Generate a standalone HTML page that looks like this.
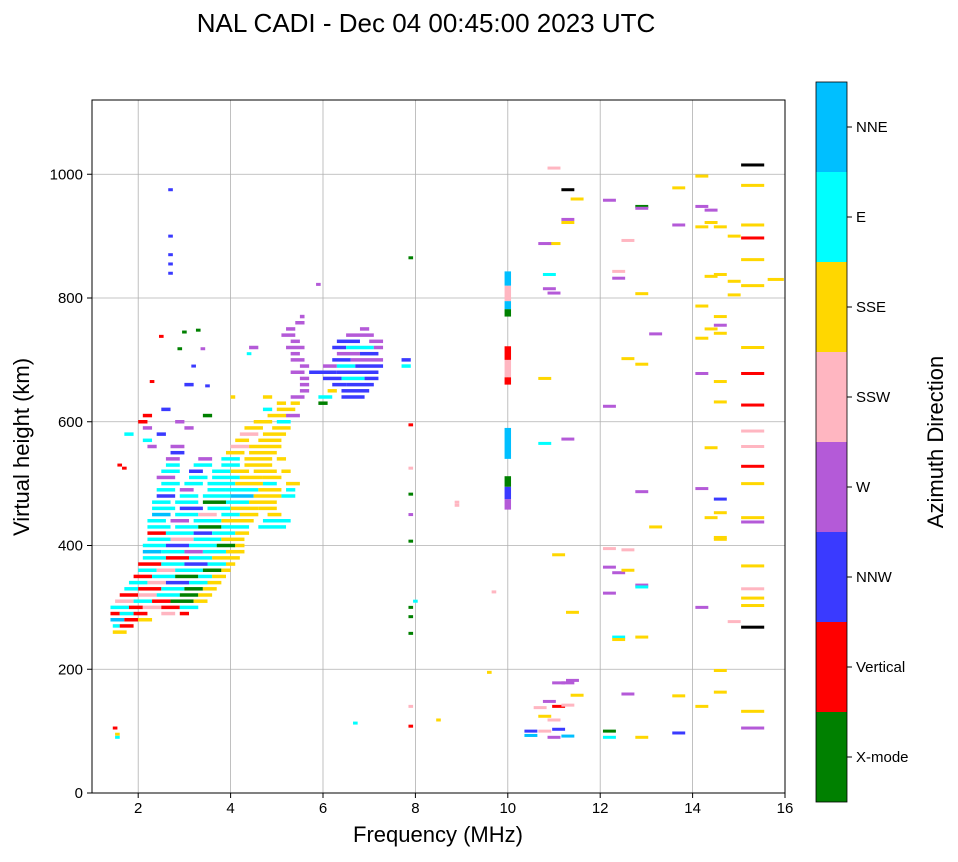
<!DOCTYPE html>
<html><head><meta charset="utf-8">
<style>
body{margin:0;background:#fff;font-family:"Liberation Sans","DejaVu Sans",sans-serif;}
svg text{font-family:"Liberation Sans","DejaVu Sans",sans-serif;}
</style></head>
<body>
<svg id="chart" width="958" height="857" xmlns="http://www.w3.org/2000/svg">
<text x="426" y="32" font-size="26" text-anchor="middle">NAL CADI - Dec 04 00:45:00 2023 UTC</text>
<g id="grid"></g>
<g id="marks"></g>
<rect x="92" y="100" width="693" height="693" fill="none" stroke="#000" stroke-width="1"/>
<g id="axes"></g>
<text x="438" y="842" font-size="22" text-anchor="middle">Frequency (MHz)</text>
<text transform="translate(29,447) rotate(-90)" font-size="22" text-anchor="middle">Virtual height (km)</text>
<g id="cbar"></g>
<text transform="translate(943,442) rotate(-90)" font-size="22" text-anchor="middle">Azimuth Direction</text>
</svg>
<script>
const colors=["#008000","#ff0000","#3a3aff","#b45ad8","#ffb6c1","#ffd700","#00ffff","#00bfff","#000000"];
const directions=["X-mode","Vertical","NNW","W","SSW","SSE","E","NNE"];
const xTicks=[2,4,6,8,10,12,14,16];
const yTicks=[0,200,400,600,800,1000];
const rowH=[260,270,280,290,300,310,320,330,340,350,360,370,380,390,400,410,420,430,440,450,460,470,480,490,500,510,520,530,540,550,560,570,580,590,600,610,620,630,640,650,660,670,680,690,700,710,720,730,740,750,760,770];
const rowRuns=[
[[1.45,1.75,5]],
[[1.45,1.6,6],[1.6,1.9,1]],
[[1.4,1.7,7],[1.7,2.0,1],[2.0,2.3,5]],
[[1.4,1.6,1],[1.6,1.9,6],[1.9,2.2,1],[2.5,2.8,4],[2.9,3.1,1]],
[[1.4,1.8,6],[1.8,2.1,1],[2.1,2.5,4],[2.5,2.9,1],[2.9,3.3,6]],
[[1.5,1.9,4],[1.9,2.3,6],[2.3,2.7,1],[2.7,3.2,0],[3.2,3.5,5]],
[[1.6,2.0,1],[2.0,2.4,4],[2.4,2.9,6],[2.9,3.3,0],[3.3,3.6,5]],
[[1.7,2.0,6],[2.0,2.5,1],[2.5,3.0,6],[3.0,3.4,0],[3.4,3.7,5]],
[[1.8,2.2,6],[2.2,2.6,4],[2.6,3.1,2],[3.1,3.5,6],[3.5,3.8,5]],
[[1.9,2.3,1],[2.3,2.8,6],[2.8,3.3,0],[3.3,3.6,6],[3.6,3.9,5]],
[[2.0,2.4,6],[2.4,2.8,4],[2.8,3.4,6],[3.4,3.8,0],[3.8,4.0,5]],
[[2.0,2.5,1],[2.5,3.0,6],[3.0,3.5,2],[3.5,3.9,6],[3.9,4.1,5]],
[[2.1,2.6,6],[2.6,3.1,1],[3.1,3.6,6],[3.6,4.2,5]],
[[2.1,2.5,7],[2.5,3.0,6],[3.0,3.4,3],[3.4,3.9,6],[3.9,4.3,5]],
[[2.1,2.6,6],[2.6,3.1,2],[3.1,3.7,6],[3.7,4.1,0],[4.1,4.3,5]],
[[2.2,2.7,6],[2.7,3.2,4],[3.2,3.8,6],[3.8,4.3,5]],
[[2.2,2.6,1],[2.6,3.2,6],[3.2,3.6,2],[3.6,4.1,6],[4.1,4.4,5]],
[[2.2,2.7,6],[2.8,3.3,6],[3.3,3.8,0],[3.8,4.4,6],[4.6,5.2,6]],
[[2.2,2.6,6],[2.7,3.1,3],[3.2,3.8,6],[3.8,4.5,5],[4.7,5.3,6]],
[[2.3,2.7,7],[2.8,3.3,6],[3.3,3.7,4],[3.8,4.2,6],[4.2,4.6,5],[4.8,5.1,5]],
[[2.3,2.8,6],[2.9,3.4,2],[3.5,4.0,6],[4.0,4.6,5],[4.6,5.0,5]],
[[2.3,2.7,6],[2.8,3.3,6],[3.4,3.9,0],[3.9,4.4,6],[4.4,5.0,5]],
[[2.4,2.8,2],[2.9,3.3,6],[3.4,4.0,6],[4.0,4.5,7],[4.5,5.1,5],[5.1,5.4,6]],
[[2.4,2.8,6],[2.9,3.2,3],[3.5,3.9,6],[3.9,4.6,6],[4.6,5.1,5],[5.2,5.4,6]],
[[2.5,2.9,6],[3.0,3.4,6],[3.5,4.1,6],[4.1,4.7,5],[4.7,5.0,6],[5.2,5.5,5]],
[[2.4,2.8,3],[3.1,3.5,6],[3.6,4.2,6],[4.2,4.7,5],[4.7,5.1,5]],
[[2.5,2.9,6],[3.1,3.4,2],[3.6,4.0,6],[4.0,4.4,5],[4.5,5.0,5],[5.1,5.3,5]],
[[2.6,2.9,6],[3.2,3.6,6],[3.8,4.2,6],[4.3,4.9,5]],
[[2.6,2.9,3],[3.3,3.6,3],[3.8,4.2,6],[4.3,4.9,5],[5.0,5.2,5]],
[[2.7,3.0,2],[3.9,4.3,5],[4.4,5.0,5]],
[[2.2,2.4,3],[2.7,3.0,3],[4.0,4.4,4],[4.4,5.1,5]],
[[2.1,2.3,6],[4.1,4.4,5],[4.6,5.1,5]],
[[1.7,1.9,6],[2.4,2.6,2],[4.2,4.6,4],[4.7,5.2,5]],
[[2.1,2.3,3],[3.0,3.2,3],[4.3,4.7,5],[4.9,5.3,5]],
[[2.0,2.2,1],[2.8,3.0,3],[4.5,4.9,5],[5.0,5.3,6]],
[[2.1,2.3,1],[3.4,3.6,0],[4.8,5.2,5],[5.2,5.5,3]],
[[2.5,2.7,2],[4.7,4.9,6],[5.0,5.4,5]],
[[5.0,5.2,5],[5.3,5.5,5],[5.9,6.1,0]],
[[4.0,4.1,5],[4.7,4.9,5],[5.3,5.6,3],[5.9,6.2,6],[6.4,6.9,2]],
[[5.5,5.7,3],[6.1,6.3,5],[6.4,7.0,2]],
[[3.0,3.2,2],[5.5,5.7,3],[6.2,6.5,2],[6.5,7.1,2]],
[[5.5,5.7,3],[6.0,6.4,2],[6.4,6.9,6],[6.9,7.2,2]],
[[5.3,5.6,3],[5.7,6.3,2],[6.3,7.2,2]],
[[5.5,5.7,3],[6.0,6.3,3],[6.3,6.7,6],[6.7,7.3,2],[7.7,7.9,6]],
[[5.3,5.6,3],[6.2,6.6,2],[6.6,7.3,3],[7.7,7.9,2]],
[[5.3,5.5,3],[6.3,6.8,3],[6.8,7.2,2]],
[[4.4,4.6,3],[5.2,5.6,3],[6.2,6.5,2],[6.5,7.1,6],[7.1,7.3,3]],
[[5.3,5.5,3],[6.3,6.8,2],[7.0,7.3,3]],
[[5.1,5.4,3],[6.5,7.1,3]],
[[5.2,5.4,3],[6.8,7.0,3]],
[[5.4,5.6,3]],
[[5.5,5.6,3]]
];
const colSegs=[[458,475,3],[475,495,2],[495,512,0],[540,590,7],[660,672,1],[672,700,4],[700,722,1],[770,782,0],[782,795,7],[795,820,4],[820,843,7]];
const isoF=[
2.7,2.7,2.7,2.7,7.9,7.9,7.9,7.9,7.9,7.9,
7.9,7.9,7.9,7.9,8.0,8.5,8.9,8.9,9.6,9.7,
10.8,10.8,10.9,10.9,11.0,11.0,10.8,11.1,11.4,11.3,
11.3,11.3,11.3,11.5,11.0,12.2,12.2,12.4,12.4,12.6,
12.6,12.9,12.9,12.9,12.9,13.2,12.9,13.2,12.2,12.2,
12.4,12.6,12.6,12.9,12.9,12.2,12.4,12.4,12.9,12.6,
12.9,12.2,12.2,11.1,11.3,11.4,11.5,11.1,11.3,10.9,
10.8,11.0,11.1,10.8,10.5,10.5,11.0,11.3,10.7,13.7,
13.7,13.7,13.7,14.2,14.2,14.2,14.2,14.2,14.2,14.2,
14.2,14.2,14.4,14.4,14.4,14.4,14.4,14.4,14.6,14.6,
14.6,14.6,14.6,14.6,14.6,14.6,14.6,14.6,14.6,14.6,
14.6,14.9,14.9,14.9,14.9,15.3,15.3,15.3,15.3,15.3,
15.3,15.3,15.3,15.3,15.3,15.3,15.3,15.3,15.3,15.3,
15.3,15.3,15.3,15.3,15.3,15.3,15.3,15.8,1.5,1.55,
1.55,6.7,5.9,3.3,2.5,3.5,2.7,7.9,2.3,3.2,
3.4,4.4,3.0,2.9,1.7,1.6];
const isoH=[
840,855,870,900,865,595,525,483,450,407,
300,285,258,108,310,118,470,465,195,325,
565,670,838,815,808,888,888,385,292,927,
922,975,572,960,1010,958,625,843,832,893,
702,693,948,945,807,742,487,430,395,365,
356,393,360,336,333,323,252,248,252,160,
90,90,100,178,178,182,158,140,142,148,
124,118,103,100,100,93,90,92,138,978,
918,157,97,997,948,915,787,735,678,492,
300,140,942,922,835,750,558,445,915,838,
770,756,743,665,632,475,453,413,410,198,
163,900,827,805,277,1015,982,918,897,862,
820,720,678,627,585,560,528,500,445,438,
367,330,315,303,268,132,105,830,105,95,
90,113,822,748,738,658,975,140,665,690,
718,710,745,718,525,530];
const isoC=[
2,2,2,2,0,1,4,0,3,0,
0,0,0,1,6,5,4,4,5,4,
6,5,6,3,3,5,3,5,5,3,
5,8,3,5,4,3,3,4,3,4,
5,5,0,3,5,3,3,5,4,3,
3,4,5,3,6,3,6,5,5,3,
5,6,0,3,3,3,5,1,4,3,
5,4,2,4,2,7,3,7,4,5,
3,5,2,5,3,5,5,5,3,3,
3,5,3,5,5,5,5,5,5,5,
5,3,5,5,5,2,5,5,5,5,
5,5,5,5,4,8,5,5,1,5,
5,5,1,1,4,4,1,5,5,3,
5,4,5,5,8,5,3,5,1,5,
6,6,3,0,1,2,2,4,1,2,
3,6,0,0,1,1];

const NS="http://www.w3.org/2000/svg";
const X0=92,X1=785,Y0=793,Y1=100,FMIN=1,FMAX=16,HMIN=0,HMAX=1120;
const xs=f=>X0+(f-FMIN)/(FMAX-FMIN)*(X1-X0);
const ys=h=>Y0-(h-HMIN)/(HMAX-HMIN)*(Y0-Y1);
function mk(tag,attrs,parent){const e=document.createElementNS(NS,tag);for(const k in attrs)e.setAttribute(k,attrs[k]);parent.appendChild(e);return e;}
const grid=document.getElementById('grid'),axes=document.getElementById('axes'),marks=document.getElementById('marks'),cbar=document.getElementById('cbar');
xTicks.forEach(t=>{const x=xs(t);
 if(t<FMAX){const l=mk('line',{x1:x,x2:x,y1:Y1,y2:Y0,stroke:'#b0b0b0','stroke-width':0.8},grid);}
 mk('line',{x1:x,x2:x,y1:Y0,y2:Y0+5,stroke:'#000'},axes);
 const tx=mk('text',{x:x,y:Y0+20,'font-size':15,'text-anchor':'middle'},axes);tx.textContent=t;
 
 });
yTicks.forEach(t=>{const y=ys(t);
 if(t>0){const l=mk('line',{x1:X0,x2:X1,y1:y,y2:y,stroke:'#b0b0b0','stroke-width':0.8},grid);}
 mk('line',{x1:X0-5,x2:X0,y1:y,y2:y,stroke:'#000'},axes);
 const tx=mk('text',{x:X0-9,y:y+5,'font-size':15,'text-anchor':'end'},axes);tx.textContent=t;
 
 });
const CH=3.5;
rowH.forEach((h,i)=>{rowRuns[i].forEach(r=>{
 const e=mk('rect',{x:xs(r[0]),y:ys(h)-CH/2,width:xs(r[1])-xs(r[0]),height:CH,fill:colors[r[2]]},marks);
 
 });});
colSegs.forEach(s=>{
 const e=mk('rect',{x:xs(9.93),y:ys(s[1]),width:xs(10.07)-xs(9.93),height:ys(s[0])-ys(s[1]),fill:colors[s[2]]},marks);
 
 });
isoF.forEach((f,i)=>{const w=f>=15.6?0.35:(f>=15?0.5:(f>=10.3?0.28:0.1));
 const e=mk('rect',{x:xs(f-w/2),y:ys(isoH[i])-1.5,width:xs(w)-xs(0),height:3,fill:colors[isoC[i]]},marks);
 
 });
const CB0=802,CBH=90;
directions.forEach((d,i)=>{const y=CB0-(i+1)*CBH;
 const r=mk('rect',{x:816,y:y,width:31,height:CBH,fill:colors[i]},cbar);
 
 
 mk('line',{x1:847,x2:852,y1:y+CBH/2,y2:y+CBH/2,stroke:'#000'},cbar);
 const t=mk('text',{x:856,y:y+CBH/2+5,'font-size':15},cbar);t.textContent=d;
 
 });
mk('rect',{x:816,y:82,width:31,height:720,fill:'none',stroke:'#000','stroke-width':0.8},cbar);
</script>
</body></html>
